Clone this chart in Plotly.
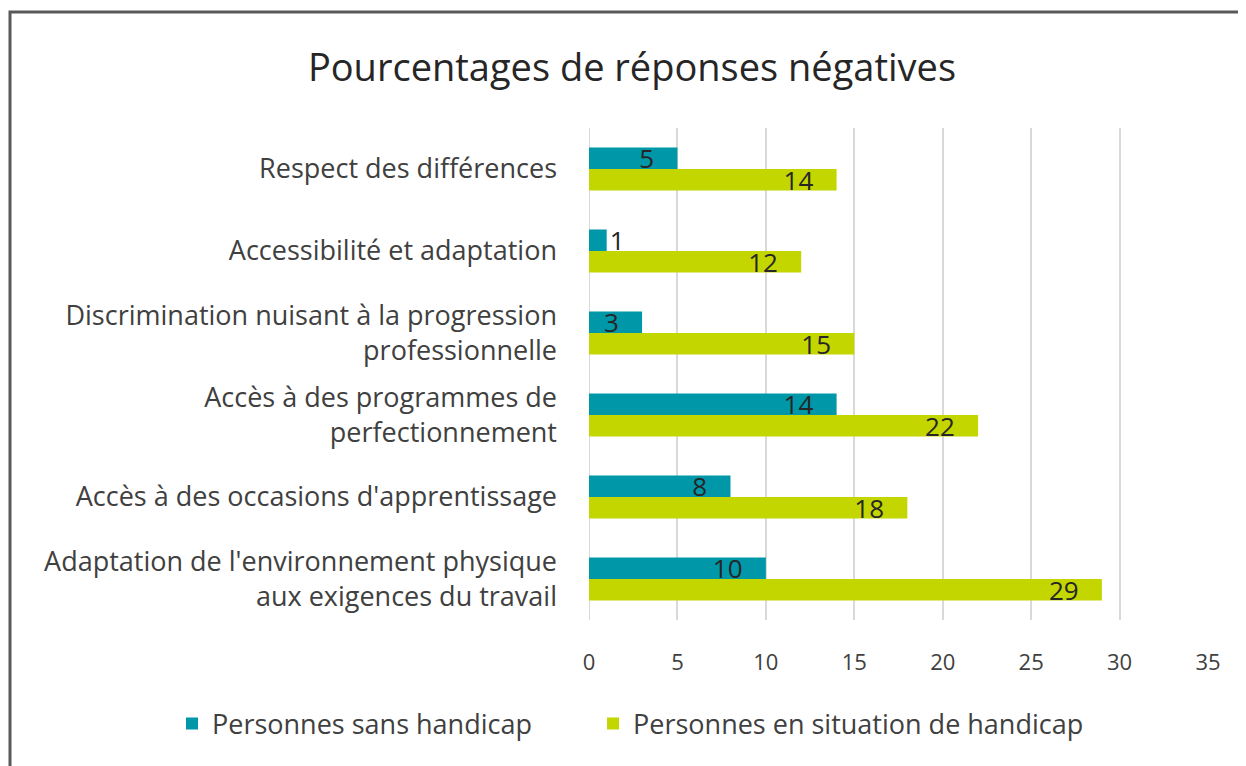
import plotly.graph_objects as go

categories = [
    "Respect des différences",
    "Accessibilité et adaptation",
    "Discrimination nuisant à la progression<br>professionnelle",
    "Accès à des programmes de<br>perfectionnement",
    "Accès à des occasions d'apprentissage",
    "Adaptation de l'environnement physique<br>aux exigences du travail",
]
sans_handicap = [5, 1, 3, 14, 8, 10]
avec_handicap = [14, 12, 15, 22, 18, 29]
x_ticks = [0, 5, 10, 15, 20, 25, 30, 35]

teal = "#0098A8"
lime = "#C4D600"
font = "Open Sans"


def text_pos(vals):
    # short bars get the label outside
    return ["outside" if v < 2 else "inside" for v in vals]


def add_series(name, vals, color, pad=""):
    fig.add_trace(go.Bar(
        y=categories, x=vals, orientation="h", name=name + pad,
        marker=dict(color=color, line=dict(width=0)),
        text=vals, texttemplate="%{x}\u00a0\u00a0\u00a0", textangle=0,
        textposition=text_pos(vals), insidetextanchor="end",
        constraintext="none", cliponaxis=False,
        textfont=dict(family=font, size=26, color="#262626"),
    ))


fig = go.Figure()
# extra spaces widen the gap between the two legend entries
add_series("Personnes sans handicap", sans_handicap, teal, pad="\u00a0" * 8)
add_series("Personnes en situation de handicap", avec_handicap, lime)

# page is offset 8px by the body margin
W, H = 1238, 758
L, R, T, B = 581, 38, 120, 146
pw, ph = W - L - R, H - T - B

fig.update_layout(
    width=W, height=H,
    margin=dict(l=L, r=R, t=T, b=B, autoexpand=False),
    paper_bgcolor="white", plot_bgcolor="white",
    barmode="group", bargap=0.475, bargroupgap=0,
    font=dict(family=font, color="#404040"),
    title=dict(text="Pourcentages de réponses négatives", xref="container", x=0.504,
               xanchor="center", y=1 - 60 / H, yanchor="middle",
               font=dict(family=font, size=38, color="#262626")),
    legend=dict(orientation="h", x=(164 - L) / pw, xanchor="left",
                y=(ph - (716 - T)) / ph, yanchor="middle",
                font=dict(family=font, size=27, color="#404040"),
                itemwidth=30, traceorder="normal"),
    xaxis=dict(range=[0, 35], tickvals=x_ticks, showgrid=True, gridcolor="#D9D9D9",
               gridwidth=2, zeroline=False, showline=False,
               tickfont=dict(family=font, size=22, color="#404040"),
               ticklabelstandoff=27),
    yaxis=dict(categoryorder="array", categoryarray=categories, autorange="reversed",
               showgrid=False, showline=False, zeroline=False,
               tickfont=dict(family=font, size=27, color="#404040"),
               ticklabelstandoff=31),
    shapes=[
        dict(type="rect", xref="paper", yref="paper",
             x0=(2 - L) / pw, x1=(1260 - L) / pw,
             y0=(T + ph - 780) / ph, y1=(T + ph - 4) / ph,
             line=dict(color="#595959", width=3), layer="below"),
        # gridline at 0
        dict(type="line", xref="x", yref="paper", x0=0, x1=0, y0=0, y1=1,
             line=dict(color="#D9D9D9", width=2), layer="below"),
    ],
)

fig.write_html("out.html")
